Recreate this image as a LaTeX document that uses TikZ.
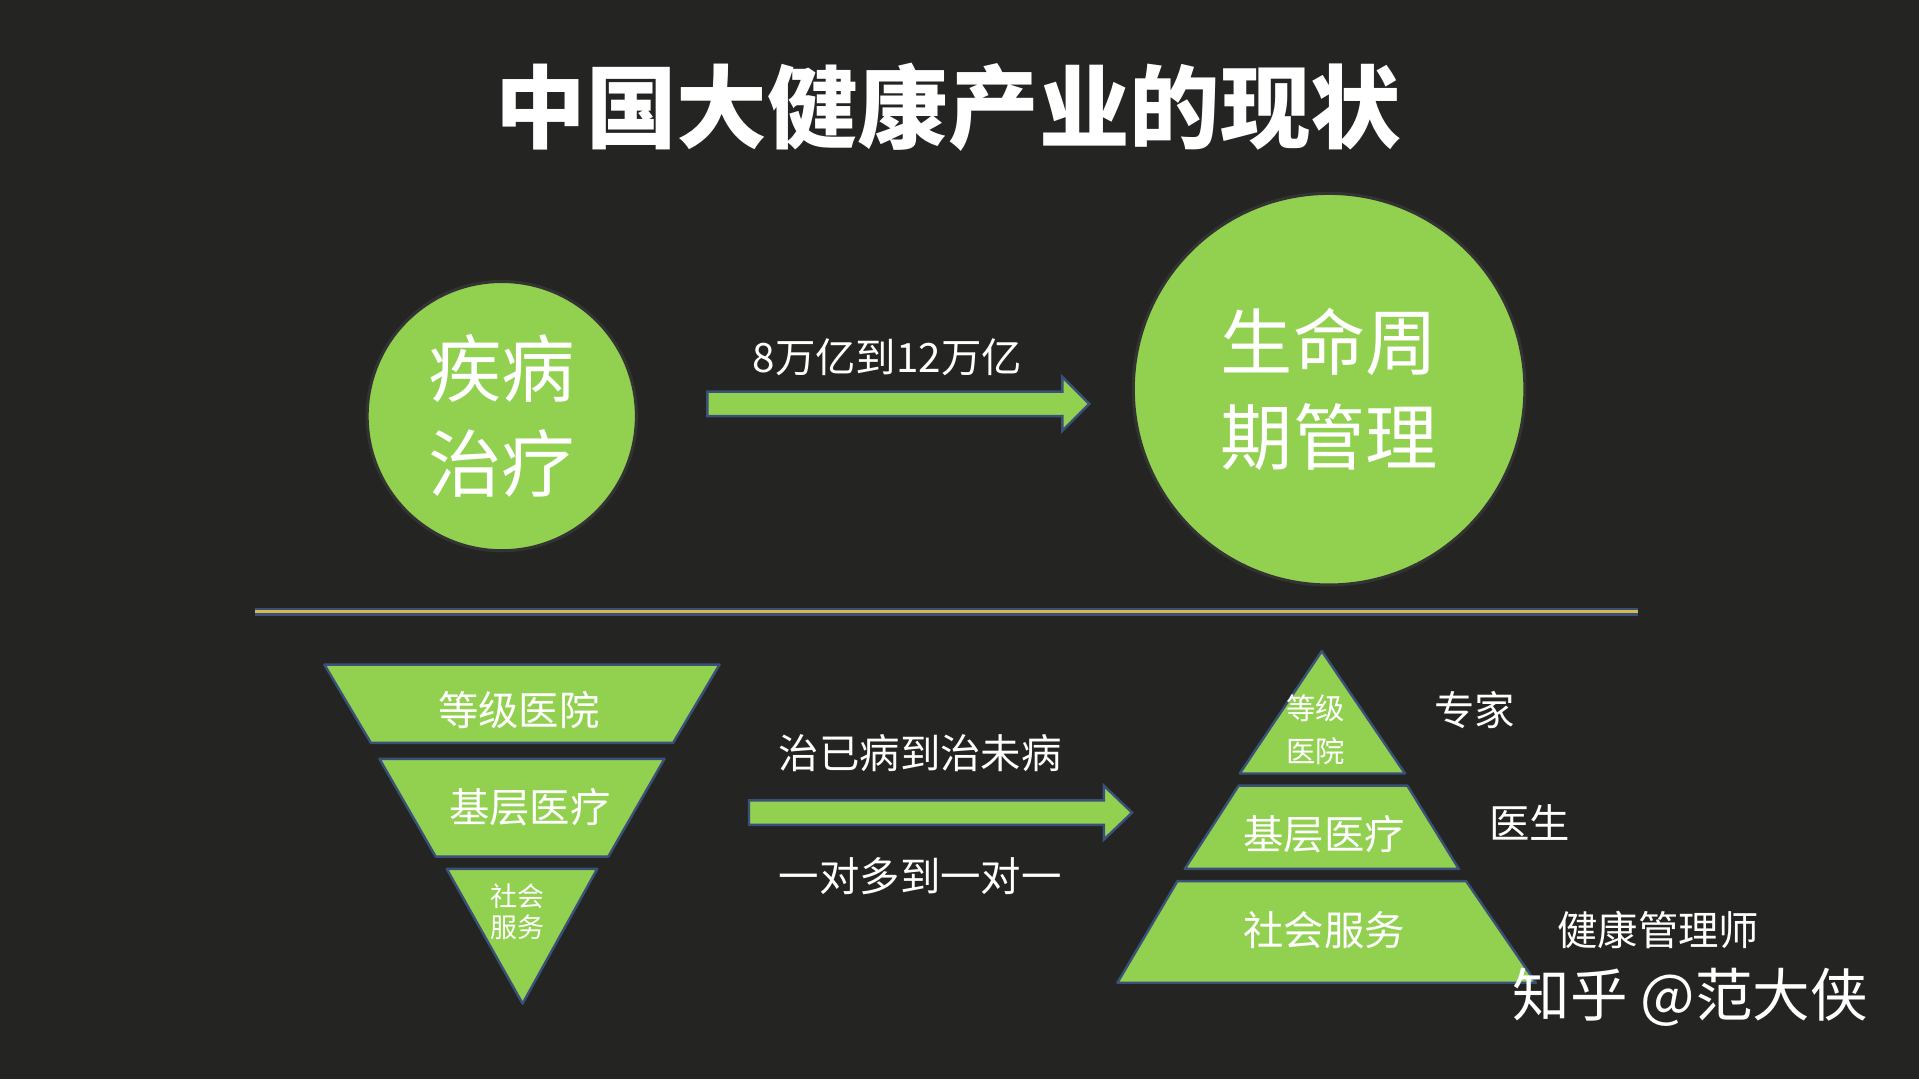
\documentclass[tikz,border=0pt]{standalone}
\usepackage{fontspec}
\setmainfont{Noto Sans CJK SC}
\definecolor{grn}{HTML}{92D050}
\definecolor{edg}{HTML}{3A5078}
\definecolor{bg}{HTML}{242422}
\definecolor{gold}{HTML}{D9B84A}
\begin{document}
\begin{tikzpicture}[x=1pt,y=-1pt,
  shp/.style={fill=grn,draw=edg,line width=2pt,line join=round},
  circ/.style={circle,fill=grn,draw=black!80,line width=2.5pt,inner sep=0pt},
  wt/.style={text=white,align=center,inner sep=0pt},
  mid/.style={font=\fontsize{33}{36}\selectfont},
  arr/.style={fill=grn,draw=edg,line width=2pt,line join=miter}]
\fill[bg] (0,0) rectangle (1568,882);
\useasboundingbox (0,0) rectangle (1568,882);
\node[wt,font=\fontsize{74}{80}\selectfont\bfseries] (title) at (775,88) {中国大健康产业的现状};
\node[circ,minimum size=220pt] (c1) at (410,340) {};
\node[wt,font=\fontsize{60}{78}\selectfont] (t1) at (c1) {疾病\\治疗};
\node[circ,minimum size=320pt] (c2) at (1086,318) {};
\node[wt,font=\fontsize{59}{78}\selectfont] (t2) at (c2) {生命周\\期管理};
% top arrow
\draw[arr] (578,320) -- (868,320) -- (868,308) -- (890,330) -- (868,352) -- (868,340) -- (578,340) -- cycle;
\node[wt,mid] (l1) at (725,292) {8万亿到12万亿};
% divider
\draw[edg,line width=6pt] (208,500) -- (1338,500);
\draw[gold,line width=2.5pt] (208,500) -- (1338,500);
% inverted pyramid
\draw[shp] (265,543) -- (588,543) -- (550,607) -- (303,607) -- cycle;
\node[wt,mid] (a1) at (424,580) {等级医院};
\draw[shp] (310,620) -- (543,620) -- (497,700) -- (356,700) -- cycle;
\node[wt,mid] (a2) at (433,660) {基层医疗};
\draw[shp] (365,710) -- (488,710) -- (427,820) -- cycle;
\node[wt,font=\fontsize{22}{26}\selectfont] (a3) at (423,745) {社会\\服务};
% middle arrow
\draw[arr] (612,654) -- (902,654) -- (902,642) -- (925,664) -- (902,686) -- (902,674) -- (612,674) -- cycle;
\node[wt,mid] (l2) at (752,615) {治已病到治未病};
\node[wt,mid] (l3) at (752,716) {一对多到一对一};
% pyramid
\draw[shp] (1080,532) -- (1148,632) -- (1013,632) -- cycle;
\node[wt,font=\fontsize{24}{35}\selectfont] (b1) at (1075,596) {等级\\医院};
\draw[shp] (1012,642) -- (1150,642) -- (1192,710) -- (968,710) -- cycle;
\node[wt,mid] (b2) at (1082,682) {基层医疗};
\draw[shp] (962,720) -- (1198,720) -- (1255,803) -- (913,803) -- cycle;
\node[wt,mid] (b3) at (1082,760) {社会服务};
\node[wt,mid] (r1) at (1205,580) {专家};
\node[wt,mid] (r2) at (1250,672) {医生};
\node[wt,mid] (r3) at (1355,760) {健康管理师};
\node[wt,font=\fontsize{47}{50}\selectfont] (wm) at (1381,815) {知乎 @范大侠};
\end{tikzpicture}
\end{document}
